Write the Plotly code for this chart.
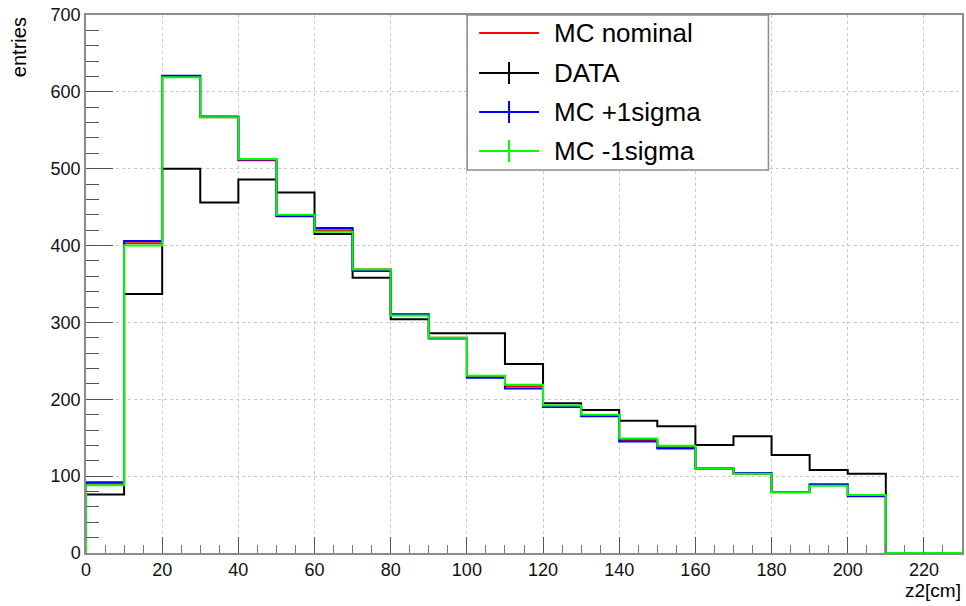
import plotly.graph_objects as go

# ---- data (bin width 10 cm, lower edges 0..220) ----
bin_edges = list(range(0, 240, 10))
mc_nominal = [90, 403, 620, 567, 511, 439, 420, 369, 310, 280, 229, 217, 191, 179, 147, 137.5, 110, 103, 79, 88.5, 75, 0, 0]
data_vals = [76, 337, 500, 456, 486, 469, 415, 358, 304, 286, 286, 246, 195, 186, 172, 165, 140.5, 152, 127.5, 108, 103, 0, 0]
mc_plus = [92, 406, 621, 568, 512, 438, 423, 367, 310.5, 279, 228, 214, 190, 178, 145, 136, 110, 104, 79.5, 89.5, 74, 0, 0]
mc_minus = [88, 400, 619, 567, 512.5, 440, 418, 369, 309, 280, 230.5, 219, 192, 180, 149, 139.5, 110, 103, 79, 87.5, 75.5, 0, 0]

series = [
    ("MC nominal", mc_nominal, "#ff0000", False),
    ("DATA", data_vals, "#000000", True),
    ("MC +1sigma", mc_plus, "#0000ff", True),
    ("MC -1sigma", mc_minus, "#00ff00", True),
]

W, H = 966, 606
L, R, T, B = 86, 2, 15, 53
pw, ph = W - L - R, H - T - B

def px_x(p):
    return (p - L) / pw

def px_y(p):
    return (H - B - p) / ph

FONT = "Liberation Sans, Arial, sans-serif"

fig = go.Figure()
for name, vals, col, _ in series:
    xs = [bin_edges[0]] + bin_edges
    ys = [0] + vals + [vals[-1]]
    fig.add_trace(go.Scatter(x=xs, y=ys, mode="lines", line=dict(color=col, width=2, shape="hv"),
                             name=name, showlegend=False, hoverinfo="skip"))

axis_common = dict(
    showline=True, linecolor="#8c8c8c", linewidth=1.5, mirror=True,
    ticks="inside", tickcolor="#555555", tickwidth=1,
    showgrid=True, gridcolor="#c8c8c8", griddash="dot", gridwidth=1,
    zeroline=False, tickfont=dict(family=FONT, size=18, color="#111111"),
)
fig.update_xaxes(range=[0, 230], dtick=20, tick0=0, ticklen=16,
                 minor=dict(dtick=5, ticklen=8, ticks="inside", tickcolor="#777777", showgrid=False),
                 **axis_common)
fig.update_yaxes(range=[0, 700], dtick=100, tick0=0, ticklen=27,
                 minor=dict(dtick=20, ticklen=13, ticks="inside", tickcolor="#555555", showgrid=False),
                 **axis_common)

shapes = []
annotations = []
# legend box
shapes.append(dict(type="rect", xref="paper", yref="paper", x0=px_x(468), x1=px_x(770), y0=px_y(170), y1=px_y(15),
                   line=dict(color="#8c8c8c", width=1.5), fillcolor="white", layer="above"))
rows = [33, 73, 112, 151]
for (name, _, col, cross), ry in zip(series, rows):
    shapes.append(dict(type="line", xref="paper", yref="paper", x0=px_x(480), x1=px_x(540), y0=px_y(ry), y1=px_y(ry),
                       line=dict(color=col, width=2), layer="above"))
    if cross:
        shapes.append(dict(type="line", xref="paper", yref="paper", x0=px_x(510), x1=px_x(510), y0=px_y(ry - 11), y1=px_y(ry + 11),
                           line=dict(color=col, width=2), layer="above"))
    annotations.append(dict(text=name, xref="paper", yref="paper", x=px_x(553), y=px_y(ry), xanchor="left", yanchor="middle",
                            showarrow=False, font=dict(family=FONT, size=26, color="black")))

annotations.append(dict(text="entries", xref="paper", yref="paper", x=px_x(19), y=px_y(15), xanchor="center", yanchor="top",
                        textangle=-90, showarrow=False, font=dict(family=FONT, size=20, color="black")))
annotations.append(dict(text="z2[cm]", xref="paper", yref="paper", x=px_x(965), y=px_y(590), xanchor="right", yanchor="middle",
                        showarrow=False, font=dict(family=FONT, size=19, color="black")))

fig.update_layout(width=W, height=H, margin=dict(l=L, r=R, t=T, b=B), plot_bgcolor="white", paper_bgcolor="white",
                  shapes=shapes, annotations=annotations, showlegend=False)

fig.write_html("out.html")
